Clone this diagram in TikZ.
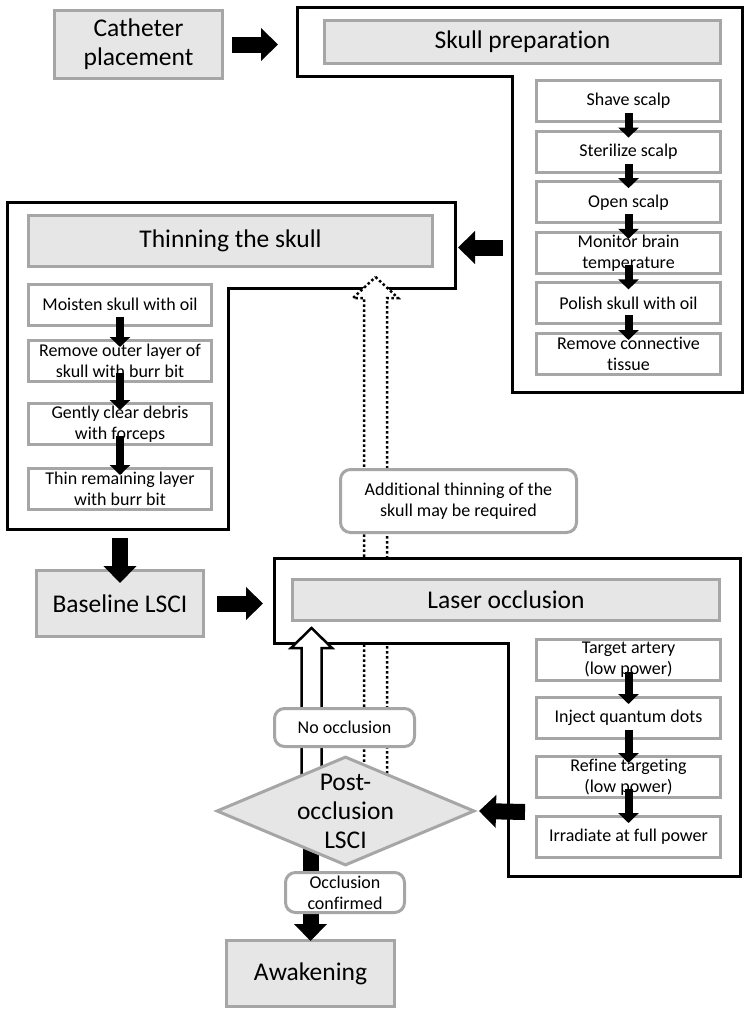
\documentclass[tikz,border=0pt]{standalone}
\usepackage{fontspec}
\setmainfont{Carlito}[Ligatures=NoCommon]
\usetikzlibrary{arrows.meta, shapes.geometric}
\definecolor{boxfill}{HTML}{E6E6E6}
\definecolor{boxedge}{HTML}{A6A6A6}
\newcommand{\hdrfont}{\fontsize{25.5}{29}\selectfont}
\newcommand{\stepfont}{\fontsize{18}{21}\selectfont}
\tikzset{
	mainbox/.style={draw=boxedge, fill=boxfill, line width=3pt, inner sep=0pt, align=center, font=\hdrfont},
	stepbox/.style={draw=boxedge, fill=white, line width=3pt, inner sep=0pt, align=center, font=\stepfont, minimum height=41pt},
	notebox/.style={draw=boxedge, fill=white, line width=3pt, rounded corners=10pt, inner sep=0pt, align=center, font=\stepfont},
	frame/.style={draw=black, fill=white, line width=3pt},
	decision/.style={diamond, draw=boxedge, fill=boxfill, line width=3pt, inner sep=0pt, minimum width=258pt, minimum height=109pt},
	fatarrow/.style={line width=16pt, -{Triangle[length=17pt, width=32pt]}},
	steparrow/.style={line width=8pt, -{Triangle[length=10pt, width=20pt]}},
	hollowarrow/.style={draw=black, fill=white, line width=2.5pt},
	dottedarrow/.style={draw=black, fill=white, line width=2.5pt, dash pattern=on 2.5pt off 2.5pt}
}
\begin{document}
\begin{tikzpicture}[x=1pt, y=-1pt]
				\useasboundingbox (0,0) rectangle (750,1017);
				% catheter
				\node[mainbox, minimum width=168pt, minimum height=68pt] (cath) at (138.5,44.5) {Catheter\\placement};
				% skull preparation
				\coordinate (prepNW) at (297,7);
				\coordinate (prepInner) at (512,247.5);
				\draw[frame] (prepNW) -- (742,7) -- (742,392) -- (512,392) -- (512,76) -- (297,76) -- cycle;
				\node[mainbox, minimum width=396pt, minimum height=43pt] (prephdr) at (522.5,42) {Skull preparation};
				\foreach \txt [count=\i] in {Shave scalp, Sterilize scalp, Open scalp, {Monitor brain\\temperature}, Polish skull with oil, {Remove connective\\tissue}}
					\node[stepbox, minimum width=184pt] (prep\i) at (628.5, 50.6*\i+50.4) {\txt};
				\foreach \i [count=\j from 2] in {1,...,5}
					\draw[steparrow] ([yshift=10pt]prep\i.south) -- ([yshift=-8pt]prep\j.north);
				\draw[fatarrow, shorten <=8pt, shorten >=19pt] (cath.east) -- (cath.east -| prepNW);
				% thinning the skull
				\coordinate (thinNE) at (455,202);
				\coordinate (thinSW) at (7,529);
				\draw[frame] (7,202) -- (thinNE) -- (455,288) -- (228,288) -- (228,529) -- (thinSW) -- cycle;
				\node[mainbox, minimum width=404pt, minimum height=51pt] (thinhdr) at (230.5,241) {Thinning the skull};
				\foreach \txt/\y [count=\i] in {Moisten skull with oil/304.5, {Remove outer layer of\\skull with burr bit}/361, {Gently clear debris\\with forceps}/424, {Thin remaining layer\\with burr bit}/489}
					\node[stepbox, minimum width=183pt] (thin\i) at (120,\y) {\txt};
				\foreach \i [count=\j from 2] in {1,...,3}
					\draw[steparrow] ([yshift=10pt]thin\i.south) -- ([yshift=-8pt]thin\j.north);
				\draw[fatarrow, shorten <=9pt, shorten >=3pt] (prepInner) -- (prepInner -| thinNE);
				% repeat thinning
				\coordinate (redoTip) at (375.5,277);
				\draw[dottedarrow] (redoTip) -- ++(22.5,21) -- ++(-11,0) -- ++(0,487) -- ++(-23,0) -- ++(0,-487) -- ++(-11,0) -- cycle;
				% baseline
				\node[mainbox, minimum width=167pt, minimum height=66pt] (base) at (120,603.5) {Baseline LSCI};
				\draw[fatarrow, shorten <=9pt] (base.north |- thinSW) -- ([yshift=-14pt]base.north);
				% laser occlusion
				\coordinate (laserNW) at (274,558);
				\coordinate (laserOut) at (525,812);
				\draw[frame] (laserNW) -- (740,558) -- (740,876) -- (508,876) -- (508,643) -- (274,643) -- cycle;
				\node[mainbox, minimum width=427pt, minimum height=41pt] (laserhdr) at (506,600) {Laser occlusion};
				\foreach \txt/\y [count=\i] in {{Target artery\\(low power)}/660, Inject quantum dots/718, {Refine targeting\\(low power)}/777, Irradiate at full power/837}
					\node[stepbox, minimum width=184pt] (laser\i) at (628.5,\y) {\txt};
				\foreach \i [count=\j from 2] in {1,...,3}
					\draw[steparrow] ([yshift=10pt]laser\i.south) -- ([yshift=-8pt]laser\j.north);
				\draw[fatarrow, shorten <=12pt, shorten >=11pt] (base.east) -- (base.east -| laserNW);
				\node[notebox, minimum width=236pt, minimum height=63pt] (note) at (458.5,501) {Additional thinning of the\\skull may be required};
				% no occlusion
				\coordinate (retryTip) at (311.5,628);
				\draw[hollowarrow] (retryTip) -- ++(20.5,20) -- ++(-10.5,0) -- ++(0,142) -- ++(-20,0) -- ++(0,-142) -- ++(-10.5,0) -- cycle;
				% awakening
				\coordinate (checkC) at (345.5,811);
				\node[mainbox, minimum width=168pt, minimum height=66pt] (wake) at (310.5,973.5) {Awakening};
				\draw[fatarrow] (wake.north |- checkC) -- ([yshift=-2pt]wake.north);
				\node[decision, label={[font=\hdrfont, align=center]center:Post-\\occlusion\\LSCI}] (check) at (checkC) {};
				\draw[fatarrow] (laserOut) -- ([xshift=3pt]check.east);
				\node[notebox, minimum width=140pt, minimum height=38pt] (nope) at (344.5,727.5) {No occlusion};
				\node[notebox, minimum width=119pt, minimum height=40pt] (yes) at (345,892.5) {Occlusion\\confirmed};
			\end{tikzpicture}
\end{document}
